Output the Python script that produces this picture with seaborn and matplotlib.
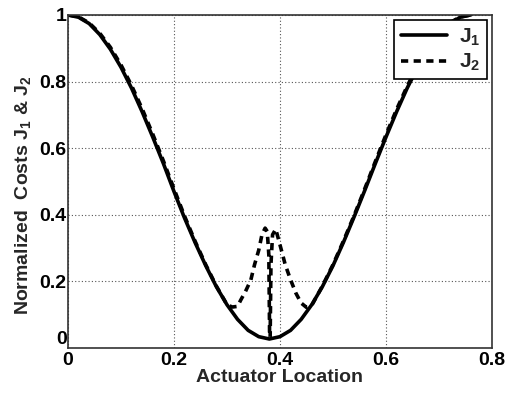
import numpy as np
import pandas as pd
import matplotlib
matplotlib.use("Agg")
import matplotlib.pyplot as plt
import seaborn as sns

# --- Datos ---
x_j1 = [0.00, 0.02, 0.04, 0.06, 0.08, 0.10, 0.12, 0.14, 0.16, 0.18,
        0.20, 0.22, 0.24, 0.26, 0.28, 0.30, 0.32, 0.34, 0.36, 0.38,
        0.40, 0.42, 0.44, 0.46, 0.48, 0.50, 0.52, 0.54, 0.56, 0.58,
        0.60, 0.62, 0.64, 0.66, 0.68, 0.70, 0.72, 0.74, 0.76]
j1 = [1.000, 0.993, 0.974, 0.941, 0.897, 0.843, 0.780, 0.709, 0.633, 0.554,
      0.470, 0.390, 0.316, 0.247, 0.184, 0.130, 0.086, 0.053, 0.034, 0.027,
      0.034, 0.053, 0.086, 0.130, 0.184, 0.247, 0.318, 0.394, 0.473, 0.554,
      0.633, 0.709, 0.780, 0.843, 0.897, 0.941, 0.974, 0.993, 1.000]

x_j2 = [0.00, 0.02, 0.04, 0.06, 0.08, 0.10, 0.12, 0.14, 0.16, 0.18,
        0.20, 0.22, 0.24, 0.26, 0.28, 0.30, 0.31, 0.32, 0.326, 0.335,
        0.345, 0.352, 0.360, 0.366, 0.372, 0.376, 0.379, 0.3805, 0.3815,
        0.383, 0.386, 0.392, 0.40, 0.41, 0.42, 0.43, 0.44, 0.45, 0.46,
        0.48, 0.50, 0.52, 0.54, 0.56, 0.58, 0.60, 0.62, 0.64, 0.66,
        0.68, 0.70, 0.72, 0.74, 0.76]
j2 = [1.000, 0.994, 0.976, 0.945, 0.903, 0.850, 0.788, 0.718, 0.642, 0.562,
      0.478, 0.396, 0.320, 0.250, 0.186, 0.130, 0.123, 0.125, 0.144, 0.170,
      0.204, 0.250, 0.294, 0.340, 0.360, 0.350, 0.280, 0.030, 0.030,
      0.250, 0.340, 0.357, 0.310, 0.250, 0.205, 0.165, 0.135, 0.122, 0.128,
      0.186, 0.250, 0.322, 0.398, 0.478, 0.560, 0.640, 0.716, 0.786, 0.848,
      0.902, 0.945, 0.976, 0.994, 1.000]

x_ticks = [0, 0.2, 0.4, 0.6, 0.8]
y_ticks = [0, 0.2, 0.4, 0.6, 0.8, 1]
x_tick_labels = ["0", "0.2", "0.4", "0.6", "0.8"]
y_tick_labels = ["0", "0.2", "0.4", "0.6", "0.8", "1"]

df1 = pd.DataFrame({"x": x_j1, "y": j1})
df2 = pd.DataFrame({"x": x_j2, "y": j2})

sns.set_style("white")
plt.rcParams["font.family"] = ["Liberation Sans", "DejaVu Sans"]
plt.rcParams["font.weight"] = "bold"
plt.rcParams["mathtext.fontset"] = "custom"
plt.rcParams["mathtext.rm"] = "Liberation Sans:bold"
plt.rcParams["mathtext.it"] = "Liberation Sans:bold"
plt.rcParams["mathtext.bf"] = "Liberation Sans:bold"

fig = plt.figure(figsize=(5.25, 3.93), dpi=100)
ax = fig.add_axes([0.1295, 0.1145, 0.8075, 0.8475])

sns.lineplot(data=df1, x="x", y="y", ax=ax, color="black", linewidth=2.6,
             sort=False, label=r"$\mathregular{J_1}$")
sns.lineplot(data=df2, x="x", y="y", ax=ax, color="black", linewidth=2.6,
             linestyle=(0, (2.0, 1.5)), sort=False, label=r"$\mathregular{J_2}$")

ax.set_xlim(0, 0.8)
ax.set_ylim(0, 1)
ax.set_xticks(x_ticks)
ax.set_yticks(y_ticks)
ax.set_xticklabels(x_tick_labels, fontsize=14, fontweight="bold")
ax.set_yticklabels(y_tick_labels, fontsize=14, fontweight="bold")
ax.tick_params(direction="in", length=4, width=1, colors="black")
ax.tick_params(axis="x", pad=3)
ax.tick_params(axis="y", pad=1)
for lab in ax.get_yticklabels():
    if lab.get_text() == "0":
        lab.set_verticalalignment("bottom")

ax.grid(True, linestyle=(0, (1, 2)), color="#555555", linewidth=0.8)
for sp in ax.spines.values():
    sp.set_visible(True)
    sp.set_color("#333333")
    sp.set_linewidth(1.2)

ax.set_xlabel("Actuator Location", fontsize=14, fontweight="bold", labelpad=0)
ax.set_ylabel(r"Normalized  Costs $\mathregular{J_1}$ & $\mathregular{J_2}$",
              fontsize=14, fontweight="bold")
ax.yaxis.set_label_coords(-0.083, 0.46)

leg = ax.legend(loc="upper right", fontsize=15, frameon=True, fancybox=False,
                edgecolor="black", framealpha=1, handlelength=2.2,
                handletextpad=0.6, borderaxespad=0.25, labelspacing=0.2,
                borderpad=0.3)
leg.get_frame().set_linewidth(1.2)

fig.savefig("out.png", dpi=100, facecolor="white")
